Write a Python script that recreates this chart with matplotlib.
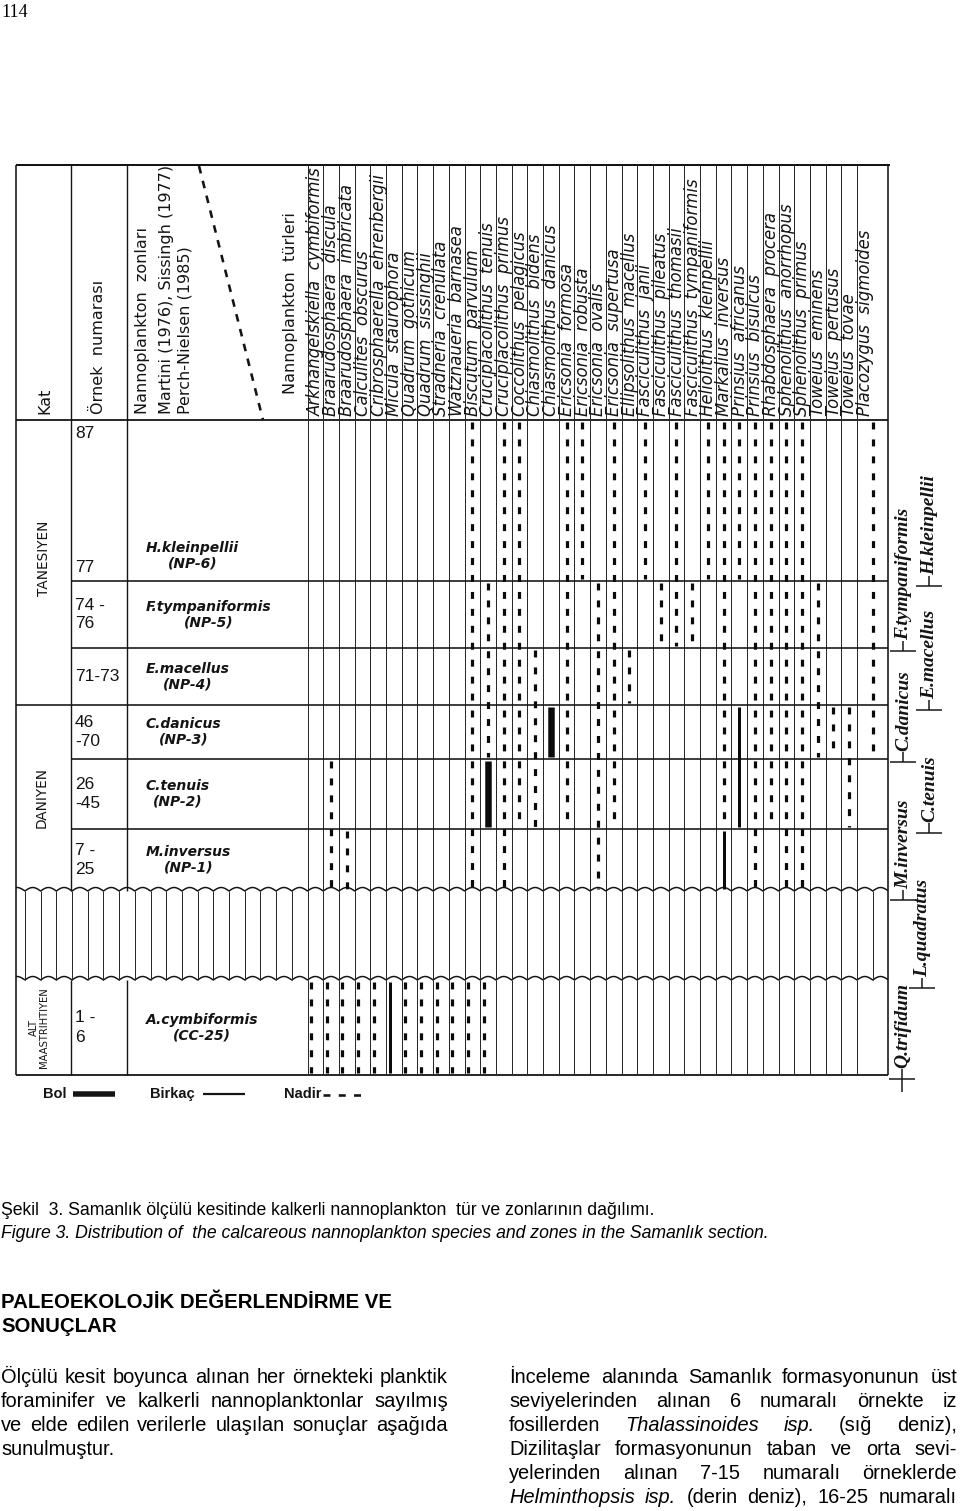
import numpy as np
import matplotlib
matplotlib.use("Agg")
import matplotlib.pyplot as plt
from matplotlib import font_manager

plt.rcParams['lines.scale_dashes'] = False

# ------------------------------------------------------------------ data
SPECIES = [
    "Arkhangelskiella  cymbiformis", "Braarudosphaera  discula", "Braarudosphaera  imbricata",
    "Calculites  obscurus", "Cribrosphaerella  ehrenbergii", "Micula  staurophora",
    "Quadrum  gothicum", "Quadrum  sissinghii", "Stradneria  crenulata", "Watznaueria  barnasea",
    "Biscutum  parvulum", "Cruciplacolithus  tenuis", "Cruciplacolithus  primus",
    "Coccolithus  pelagicus", "Chiasmolithus  bidens", "Chiasmolithus  danicus",
    "Ericsonia  formosa", "Ericsonia  robusta", "Ericsonia  ovalis", "Ericsonia  supertusa",
    "Ellipsolithus  macellus", "Fasciculithus  janii", "Fasciculithus  pileatus",
    "Fasciculithus  thomasii", "Fasciculithus  tympaniformis", "Heliolithus  kleinpellii",
    "Markalius  inversus", "Prinsius  africanus", "Prinsius  bisulcus", "Rhabdosphaera  procera",
    "Sphenolithus  anorrhopus", "Sphenolithus  primus", "Toweius  eminens", "Toweius  pertusus",
    "Toweius  tovae", "Placozygus  sigmoides"]

# zones (top -> bottom): NP-6, NP-5, NP-4, NP-3, NP-2, NP-1, CC-25
ZONE_NAMES = ["H.kleinpellii", "F.tympaniformis", "E.macellus", "C.danicus",
              "C.tenuis", "M.inversus", "A.cymbiformis"]
ZONE_CODES = ["(NP-6)", "(NP-5)", "(NP-4)", "(NP-3)", "(NP-2)", "(NP-1)", "(CC-25)"]
SAMPLES = [["87", "77"], ["74 -", "76"], ["71-73"], ["46", "-70"],
           ["26", "-45"], ["7 -", "25"], ["1 -", "6"]]
STAGES = ["TANESIYEN", "DANIYEN", "ALT\nMAASTRIHTIYEN"]

# abundance code per zone (NP-6 .. NP-1, CC-25):
# '.' absent, 'n' Nadir, 'b' Birkaç, 'B' Bol
ABUNDANCE = [
    "......n", "....nnn", ".....nn", "......n", "......n", "......b",
    "......n", "......n", "......n", "......n", "nnnnnnn", ".nnnB.n",
    "nnnnnn.", "nnnnn..", "..nnn..", "...B...", "nnnnn..", "n......",
    ".nnnnn.", "nnnnn..", "..n....", "n......", ".n.....", "nn.....",
    ".n.....", "n......", "nnnnnb.", "n..bb..", "nnnnnn.", "nnnnn..",
    "nnnnnn.", "nnnnnn.", ".nnn...", "...n...", "...nn..", "nnnn..."]

MARKERS = ["H.kleinpellii", "F.tympaniformis", "E.macellus", "C.danicus",
           "C.tenuis", "M.inversus", "L.quadratus", "Q.trifidum"]

LEGEND = ["Bol", "Birkaç", "Nadir"]

HEADER = ["Kat", "Örnek  numarası", "Nannoplankton  zonları",
          "Martini (1976), Sissingh (1977)", "Perch-Nielsen (1985)", "Nannoplankton  türleri"]

CAPTION = ["Şekil  3. Samanlık ölçülü kesitinde kalkerli nannoplankton  tür ve zonlarının dağılımı.",
           "Figure 3. Distribution of  the calcareous nannoplankton species and zones in the Samanlık section."]
HEADING = ["PALEOEKOLOJİK DEĞERLENDİRME VE", "SONUÇLAR"]
BODY_LEFT = ["Ölçülü kesit boyunca alınan her örnekteki planktik",
             "foraminifer ve kalkerli nannoplanktonlar  sayılmış",
             "ve elde edilen verilerle ulaşılan sonuçlar aşağıda",
             "sunulmuştur."]
BODY_RIGHT = ["İnceleme alanında Samanlık formasyonunun üst",
              "seviyelerinden alınan 6 numaralı örnekte iz",
              "fosillerden *Thalassinoides isp. (sığ deniz),",
              "Dizilitaşlar formasyonunun taban ve orta sevi-",
              "yelerinden alınan 7-15 numaralı örneklerde",
              "*Helminthopsis isp. (derin deniz), 16-25 numaralı"]

# ------------------------------------------------------------------ layout
W, H = 960, 1511
PX = 0.72                        # points per pixel at dpi 100
INK = "#141414"
X_LEFT, X_KAT, X_ORN, X_RIGHT = 16, 71, 127, 888
COL0, COLW = 307.5, 15.7
col_edges = np.r_[COL0 + COLW * np.arange(len(SPECIES)), X_RIGHT]
col_mid = (col_edges[:-1] + col_edges[1:]) / 2
Y_TOP, Y_HEAD = 165, 420
ZONE_Y = [(420, 581), (581, 648), (648, 705), (705, 759), (759, 829), (829, 891), (980, 1075)]
Y_W1, Y_W2, Y_BOT = 891, 980, 1075

names = {f.name for f in font_manager.fontManager.ttflist}
NARROW = "Liberation Sans Narrow" if "Liberation Sans Narrow" in names else "Liberation Sans"
WIDE = "DejaVu Sans"
SANS = "Liberation Sans"
SERIF = "Liberation Serif"

fig = plt.figure(figsize=(W / 100, H / 100), dpi=100)
ax = fig.add_axes([0, 0, 1, 1])
ax.set_xlim(0, W)
ax.set_ylim(H, 0)
ax.axis("off")
renderer = fig.canvas.get_renderer()


def line(xs, ys, lw=1.0, **kw):
    ax.plot(xs, ys, color=kw.pop("color", INK), lw=lw * PX, solid_capstyle="butt", **kw)


def width_of(s, **kw):
    t = ax.text(0, 0, s, **kw)
    w = t.get_window_extent(renderer).width
    t.remove()
    return w


def fit_size(s, target, **kw):
    return 10.0 * target / width_of(s, fontsize=10.0, **kw)


# ---------------- frame & grid
line([X_LEFT, 890], [Y_TOP, Y_TOP], 2.0)
line([X_LEFT, X_LEFT], [Y_TOP, Y_BOT], 1.6)
line([X_RIGHT, X_RIGHT], [Y_TOP, Y_BOT], 1.6)
line([X_LEFT, X_RIGHT], [Y_BOT, Y_BOT], 1.8)
line([X_LEFT, X_RIGHT], [Y_HEAD, Y_HEAD], 1.8)
for xx in (X_KAT, X_ORN):
    line([xx, xx], [Y_TOP, Y_W1], 1.4)
    line([xx, xx], [Y_W2, Y_BOT], 1.4)
for xx in col_edges[:-1]:
    line([xx, xx], [Y_TOP, Y_W1], 1.0, color="#2a2a2a")
    line([xx, xx], [Y_W2, Y_BOT], 1.0, color="#2a2a2a")
for k, (y0, y1) in enumerate(ZONE_Y[:5]):
    xs = X_LEFT if k == 2 else X_KAT
    line([xs, X_RIGHT], [y1, y1], 1.6)

# hiatus band: scalloped lines + verticals
AMP = 3.5
xw = np.linspace(X_LEFT, X_RIGHT, 3000)
ph = ((xw - COL0) / COLW) % 1.0
for base in (Y_W1, Y_W2):
    line(xw, base - AMP * np.sin(np.pi * ph), 1.5)
k0 = int(np.ceil((X_LEFT - COL0) / COLW))
k1 = int(np.floor((X_RIGHT - COL0) / COLW))
for k in range(k0, k1 + 1):
    xx = COL0 + k * COLW
    if X_LEFT + 3 < xx < X_RIGHT - 3:
        line([xx, xx], [Y_W1, Y_W2], 1.0, color="#2a2a2a")

# ---------------- header
hdr_x = [45, 98, 143, 167, 185, 291]
hdr_y = [414, 414, 414, 414, 414, 394]
for s, xx, yy in zip(HEADER, hdr_x, hdr_y):
    ax.text(xx, yy, s, rotation=90, ha="center", va="bottom", fontsize=11.5,
            family=WIDE, color=INK)
ax.plot([199, 263], [166, 420], color=INK, lw=2.6 * PX, dashes=(5.5, 5.5), dash_capstyle="butt")

for i, sp in enumerate(SPECIES):
    ax.text(col_edges[i] + 8.2, 416, sp, rotation=90, ha="center", va="bottom",
            fontsize=11.9, family=WIDE, style="italic", color=INK)

# ---------------- left columns
for k, (y0, y1) in enumerate(ZONE_Y):
    labs = SAMPLES[k]
    if y1 - y0 > 120:
        ys = [y0 + 14, y1 - 14]
    else:
        mid = (y0 + y1) / 2
        ys = [mid + (j - (len(labs) - 1) / 2) * 19 for j in range(len(labs))]
    for s, yy in zip(labs, ys):
        ax.text(75, yy, s, ha="left", va="center", fontsize=12.5, family=NARROW,
                color=INK)
    if y1 - y0 > 120:
        zy = y1 - 25
    else:
        zy = (y0 + y1) / 2
    ax.text(146, zy, ZONE_NAMES[k] + "\n" + ZONE_CODES[k], ha="left", va="center",
            multialignment="center", fontsize=10, family=WIDE, style="italic",
            weight="bold", color=INK, linespacing=1.15)

stage_pos = [(44, 558), (42, 797), (39, 1028)]
stage_fs = [9.8, 9.8, 7.2]
for s, (xx, yy), fs in zip(STAGES, stage_pos, stage_fs):
    ax.text(xx, yy, s, rotation=90, ha="center", va="center", fontsize=fs,
            family=WIDE, color=INK, multialignment="center", linespacing=1.0)

# ---------------- occurrences
DASH = (5.0, 7.2)
for i, codes in enumerate(ABUNDANCE):
    k = 0
    while k < len(codes):
        c = codes[k]
        if c == ".":
            k += 1
            continue
        j = k
        limit = 5 if k <= 5 else 6
        while j + 1 <= limit and codes[j + 1] == c:
            j += 1
        y0, y1 = ZONE_Y[k][0] + 2, ZONE_Y[j][1] - 2
        xx = col_mid[i] if k < 6 else col_edges[i] + 3.5
        if c == "n":
            ax.plot([xx, xx], [y0, y1], color="#0a0a0a", lw=3.2 * PX, dashes=DASH,
                    dash_capstyle="butt")
        elif c == "b":
            line([xx, xx], [y0, y1], 3.0, color="#0a0a0a")
        else:
            line([xx, xx], [y0, y1], 6.5, color="#0a0a0a")
        k = j + 1

# ---------------- right-side zone markers
mark_x = [929, 903, 929, 903, 929, 903, 922, 902]
mark_y = [586, 651, 710, 762, 833, 900, 988, 1079]
for s, xx, yy in zip(MARKERS, mark_x, mark_y):
    line([xx - 13, xx + 13], [yy, yy], 1.5)
    line([xx, xx], [yy, yy - 10], 1.5)
    ax.text(xx + 1, yy - 11, s, rotation=90, ha="center", va="bottom", fontsize=14,
            family=SERIF, style="italic", weight="bold", color=INK)
line([902, 902], [1079, 1092], 1.5)

# ---------------- legend
LY = 1094
ax.text(43, LY, LEGEND[0], ha="left", va="center", fontsize=10.5, family=SANS,
        weight="bold", color=INK)
line([73, 115], [LY, LY], 5.5)
ax.text(150, LY, LEGEND[1], ha="left", va="center", fontsize=10.5, family=SANS,
        weight="bold", color=INK)
line([203, 245], [LY, LY], 2.2)
ax.text(284, LY, LEGEND[2], ha="left", va="center", fontsize=10.5, family=SANS,
        weight="bold", color=INK)
ax.plot([323, 366], [LY + 1, LY + 1], color=INK, lw=2.6 * PX, dashes=(5.0, 6.0),
        dash_capstyle="butt")

# ---------------- page text
ax.text(1, 17, "114", ha="left", va="baseline", fontsize=13, family=SERIF, color="#000")
fs_cap = fit_size(CAPTION[0], 659, family=SANS)
ax.text(1, 1215, CAPTION[0], ha="left", va="baseline", fontsize=fs_cap, family=SANS, color="#000")
ax.text(1, 1238, CAPTION[1], ha="left", va="baseline", fontsize=fs_cap, family=SANS,
        style="italic", color="#000")
fs_head = fit_size(HEADING[0], 389, family=SANS, weight="bold")
ax.text(1, 1308, HEADING[0], ha="left", va="baseline", fontsize=fs_head, family=SANS,
        weight="bold", color="#000")
ax.text(1, 1332, HEADING[1], ha="left", va="baseline", fontsize=fs_head, family=SANS,
        weight="bold", color="#000")

fs_body = fit_size(BODY_LEFT[0], 440, family=SANS)


def text_line(s, x0, x1, y, justify, fs):
    words = s.split()
    kws = []
    ital = False
    for w in words:
        if w.startswith("*"):
            kws.append((w[1:], "italic"))
            ital = True
        elif ital:
            kws.append((w, "italic"))
            ital = False
        else:
            kws.append((w, "normal"))
    base = dict(fontsize=fs, family=SANS)
    widths = [width_of(w, style=st, **base) for w, st in kws]
    space = width_of("a a", **base) - width_of("aa", **base)
    if justify and len(kws) > 1:
        gap = (x1 - x0 - sum(widths)) / (len(kws) - 1)
    else:
        gap = space
    xx = x0
    for (w, st), wd in zip(kws, widths):
        ax.text(xx, y, w, ha="left", va="baseline", style=st, color="#000", **base)
        xx += wd + gap


for n, s in enumerate(BODY_LEFT):
    text_line(s, 1, 448, 1383 + 24 * n, justify=(n < len(BODY_LEFT) - 1), fs=fs_body)
for n, s in enumerate(BODY_RIGHT):
    text_line(s, 509, 957, 1383 + 24 * n, justify=True, fs=fs_body)

fig.savefig("out.png", dpi=100, facecolor="white")
